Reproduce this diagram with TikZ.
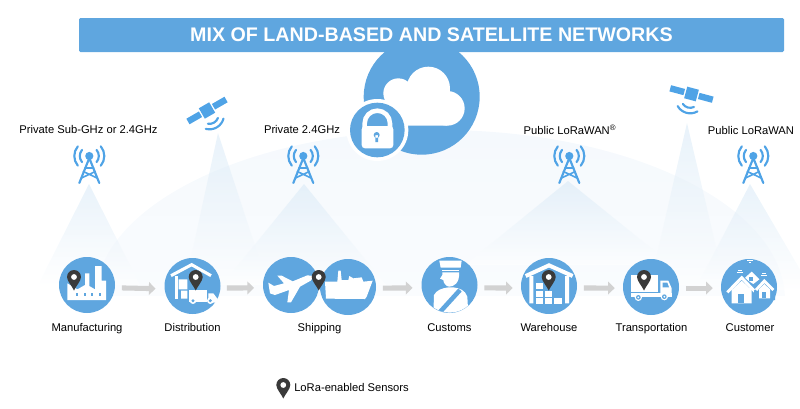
\documentclass[tikz,border=0pt]{standalone}
\usepackage{fontspec}
\setmainfont{Liberation Sans}
\usetikzlibrary{arrows.meta}
\definecolor{bluefill}{HTML}{5FA6DF}
\definecolor{towerblue}{HTML}{4FA3E6}
\definecolor{beamblue}{HTML}{D6E8F6}
\definecolor{hillblue}{HTML}{F5F9FD}
\definecolor{pindark}{HTML}{3A3A3A}
\definecolor{flowgray}{HTML}{D2D2D2}
\tikzset{
  stage/.style={circle,fill=bluefill,minimum size=42pt,inner sep=0pt},
  lbl/.style={font=\fontsize{8.4pt}{10pt}\selectfont,text=black,inner sep=0pt,anchor=base},
  flow/.style={draw=flowgray,line width=3.8pt,-{Triangle[length=5pt,width=9.5pt]},shorten >=0pt},
  beam/.style={top color=beamblue,bottom color=white,opacity=.55,draw=none},
  wht/.style={fill=white,draw=none},
  whl/.style={draw=white,line cap=butt,line join=miter},
  zc/.style={x=.25pt,y=-.25pt,shift={(#1)}},
  pin/.pic={
    \fill[pindark] (-7,0) arc[start angle=180,end angle=360,radius=7]
      .. controls (7,4) and (2,9) .. (0,13.5) .. controls (-2,9) and (-7,4) .. (-7,0) -- cycle;
    \fill[white] (0,0) circle[radius=2.9];
  },
  tower/.pic={
    \begin{scope}[draw=towerblue,line width=1.6pt,line cap=round]
      \fill[towerblue] (0,0) circle[radius=4.1];
      \draw (0,2) -- (-10,27) (0,2) -- (10,27);
      \draw[line width=1.2pt] (-4.5,12) -- (4.5,12) (-6,15.5) -- (7.8,22) (6,15.5) -- (-7.8,22);
      \foreach \r in {9.5,15}{
        \draw (40:\r) arc[start angle=40,end angle=-40,radius=\r];
        \draw (140:\r) arc[start angle=140,end angle=220,radius=\r];
      }
    \end{scope}
  },
  sat/.pic={
    \fill[towerblue] (-6,-6) rectangle (6,6);
    \fill[towerblue] (-22,-3.2) rectangle (-7.5,3.2);
    \fill[towerblue] (7.5,-3.2) rectangle (22,3.2);
    \draw[towerblue,line width=1.6pt,line cap=round]
      (0,5) ++(50:9) arc[start angle=50,end angle=130,radius=9]
      (0,5) ++(45:14.5) arc[start angle=45,end angle=135,radius=14.5];
  }
}
\begin{document}
\begin{tikzpicture}[x=.75pt,y=-.75pt]
\useasboundingbox (0,0) rectangle (800,408);
% background hill
\begin{scope}
  \clip (0,0) rectangle (800,295);
  \shade[top color=hillblue,bottom color=white] (440,300) ellipse[x radius=345,y radius=170];
\end{scope}
% beams
\shade[beam] (89,184) -- (38,285) -- (140,285) -- cycle;
\shade[beam] (218,133) -- (185,285) -- (268,285) -- cycle;
\shade[beam] (304,184) -- (222,285) -- (386,285) -- cycle;
\shade[beam] (568,181) -- (465,265) -- (672,265) -- cycle;
\shade[beam] (687,123) -- (650,285) -- (725,285) -- cycle;
\shade[beam] (750,184) -- (695,290) -- (812,290) -- cycle;
% cloud with lock
\node[circle,fill=bluefill,minimum size=87pt,inner sep=0pt] (cloudring) at (421.7,96.7) {};
\begin{scope}[zc={1020,120}]
  \fill[white] (265,145) circle[radius=65] (175,160) circle[radius=45] (322,205) circle[radius=52];
  \fill[white] (322,257) -- (110,257) .. controls (100,200) and (125,175) .. (180,160) -- (325,153) -- cycle;
  \fill[white] (112,270) circle[radius=93];
  \fill[bluefill] (112,270) circle[radius=82];
  \draw[white,line width=3.4pt] (74,265) -- (74,250) arc[start angle=180,end angle=360,radius=38] -- (150,265);
  \fill[white,rounded corners=2.5pt] (65,258) rectangle (160,325);
  \fill[bluefill] (110,285) circle[radius=9] (106,285) rectangle (114,306);
\end{scope}
% title banner
\node[fill=bluefill,rounded corners=1pt,minimum width=528.75pt,minimum height=25.5pt,inner sep=0pt,
      font=\fontsize{14.75pt}{16pt}\selectfont\bfseries,text=white] (banner) at (431.5,35)
      {MIX OF LAND-BASED AND SATELLITE NETWORKS};
% network labels and antennas
\node[lbl] (n1) at (88.5,133) {Private Sub-GHz or 2.4GHz};
\node[lbl] (n2) at (302,133) {Private 2.4GHz};
\node[lbl] (n3) at (570,134) {Public LoRaWAN\textsuperscript{®}};
\node[lbl] (n4) at (751,134) {Public LoRaWAN};
\pic at (89.3,156) {tower};
\pic at (303.3,156) {tower};
\pic at (569.3,156) {tower};
\pic at (753.3,156) {tower};
\pic[rotate=30] at (207,110.5) {sat};
\pic[rotate=-15] at (691.5,94) {sat};
% stages
\node[stage] (mfg)  at (87,285) {};
\node[stage] (dist) at (192.5,286) {};
\node[stage] (air)  at (291,285) {};
\node[stage] (ship) at (348,287) {};
\node[stage] (cust) at (449.5,285) {};
\node[stage] (ware) at (549,286) {};
\node[stage] (tran) at (651,287) {};
\node[stage] (home) at (749,287) {};
% flows
\draw[flow] ([xshift=5pt,yshift=-2.2pt]mfg.east) -- ([xshift=-6.5pt,yshift=-2pt]dist.west);
\draw[flow] ([xshift=4.5pt,yshift=-1.5pt]dist.east) -- ([xshift=-6.5pt,yshift=-2.2pt]air.west);
\draw[flow] ([xshift=5pt,yshift=-.8pt]ship.east) -- ([xshift=-6.5pt,yshift=-2.2pt]cust.west);
\draw[flow] ([xshift=5pt,yshift=-2.2pt]cust.east) -- ([xshift=-6pt,yshift=-1.5pt]ware.west);
\draw[flow] ([xshift=5pt,yshift=-1.5pt]ware.east) -- ([xshift=-6pt,yshift=-.8pt]tran.west);
\draw[flow] ([xshift=5pt,yshift=-.8pt]tran.east) -- ([xshift=-6pt,yshift=-.8pt]home.west);
% factory
\begin{scope}[zc={120,720}]
  \fill[white] (82,180) -- (82,130) -- (112,148) -- (135,135) -- (135,100) -- (148,100) -- (148,138)
    -- (165,148) -- (165,78) -- (185,78) -- (185,122) -- (198,122) -- (198,180) -- cycle;
  \foreach \i in {112,134,156,179}{\fill[bluefill] (\i-3,158) rectangle (\i+3,167);}
\end{scope}
% distribution
\begin{scope}[zc={120,720}]
  \draw[whl,line width=2.3pt] (393,107) -- (455,74) -- (513,107);
  \fill[white] (406,108) rectangle (413,176);
  \fill[white] (416,118) rectangle (442,148) (423,152) rectangle (442,176);
  \fill[white] (448,150) rectangle (502,186);
  \fill[white] (505,160) -- (520,160) -- (532,176) -- (532,188) -- (505,188) -- cycle;
  \fill[white] (459,182) circle[radius=10] (511,182) circle[radius=10];
  \fill[bluefill] (459,182) circle[radius=5] (511,182) circle[radius=5];
\end{scope}
% plane
\begin{scope}[zc={750,720}]
  \fill[white] (82,107) -- (95,107) -- (128,124) -- (172,106) -- (192,108) -- (182,122) -- (150,140)
    -- (123,187) -- (112,187) -- (117,150) -- (75,165) -- (60,160) -- (55,128) -- (72,138) -- (102,130) -- cycle;
\end{scope}
% ship
\begin{scope}[zc={750,720}]
  \fill[white] (228,176) -- (225,125) -- (262,125) -- (265,92) -- (272,92) -- (275,120) -- (295,120) -- (298,108)
    -- (310,115) -- (335,112) -- (340,125) -- (368,122) -- (350,170) -- (345,177) -- cycle;
\end{scope}
% customs officer
\begin{scope}[zc={750,720}]
  \begin{scope}
    \clip (599,135) circle[radius=83];
    \fill[white] (568,62) -- (635,62) -- (632,83) -- (572,83) -- cycle;
    \fill[white] (575,89) rectangle (628,93);
    \fill[white] (577,97) -- (627,97) .. controls (630,130) and (610,140) .. (598,140)
      .. controls (588,140) and (580,128) .. (580,120) -- (570,116) -- (577,105) -- cycle;
    \fill[white] (550,225) -- (552,165) .. controls (560,150) and (575,145) .. (595,142)
      -- (610,142) .. controls (630,145) and (645,150) .. (652,170) -- (655,225) -- cycle;
    \draw[bluefill,line width=3.4pt] (570,216) -- (630,150);
  \end{scope}
\end{scope}
% warehouse
\begin{scope}[zc={1530,720}]
  \draw[whl,line width=3pt] (47,108) -- (117,76) -- (188,108);
  \fill[white] (58,108) rectangle (70,190) (165,108) rectangle (177,190);
  \foreach \a/\b in {78/128,78/152,105/152,78/175,105/175,133/175}{
    \fill[white] (\a,\b) rectangle (\a+22,\b+18);
  }
\end{scope}
% truck
\begin{scope}[zc={1530,720}]
  \fill[white] (362,105) rectangle (445,156);
  \fill[white] (362,159) rectangle (485,170);
  \fill[white] (451,122) -- (475,122) -- (485,145) -- (485,170) -- (451,170) -- cycle;
  \fill[bluefill] (458,128) -- (472,128) -- (477,142) -- (458,142) -- cycle;
  \fill[white] (385,172) circle[radius=11] (463,170) circle[radius=11];
  \fill[bluefill] (385,172) circle[radius=7] (463,170) circle[radius=7];
  \fill[white] (385,172) circle[radius=3] (463,170) circle[radius=3];
\end{scope}
% houses
\begin{scope}[zc={1530,720}]
  \fill[white] (703,115) -- (725,95) -- (748,118) -- (730,132) -- cycle;
  \fill[bluefill] (718,112) rectangle (730,122);
  \fill[bluefill] (697,105) -- (740,150) -- (740,160) -- (690,115) -- cycle;
  \fill[white] (665,150) -- (695,122) -- (725,150) -- (725,190) -- (665,190) -- cycle;
  \fill[bluefill] (685,162) rectangle (702,190);
  \draw[whl,line width=2.2pt] (652,157) -- (695,113) -- (737,157);
  \fill[bluefill] (732,152) -- (762,118) -- (795,150) -- (795,180) -- (732,180) -- cycle;
  \fill[white] (747,148) -- (763,132) -- (780,148) -- (780,175) -- (747,175) -- cycle;
  \fill[bluefill] (757,155) rectangle (769,175);
  \draw[whl,line width=2.2pt] (738,150) -- (763,123) -- (790,150);
  \draw[white,line width=.6pt] (680,96) -- (700,96) (684,90) -- (696,90);
  \draw[white,line width=.6pt] (712,62) -- (728,62) (716,67) -- (724,67);
  \draw[white,line width=.6pt] (753,106) -- (772,106) (757,101) -- (768,101);
\end{scope}
% stage labels
\node[lbl] (l1) at (87,331) {Manufacturing};
\node[lbl] (l2) at (192.5,331) {Distribution};
\node[lbl] (l3) at (319.5,331) {Shipping};
\node[lbl] (l4) at (449.5,331) {Customs};
\node[lbl] (l5) at (549,331) {Warehouse};
\node[lbl] (l6) at (651.5,331) {Transportation};
\node[lbl] (l7) at (750,331) {Customer};
% sensor pins
\pic at (74,277) {pin};
\pic at (195.7,277) {pin};
\pic at (318.7,277) {pin};
\pic at (548.7,277) {pin};
\pic at (644,277) {pin};
\pic at (283.3,385) {pin};
\node[lbl,anchor=base west] (legend) at (294,391) {LoRa-enabled Sensors};
\end{tikzpicture}
\end{document}
